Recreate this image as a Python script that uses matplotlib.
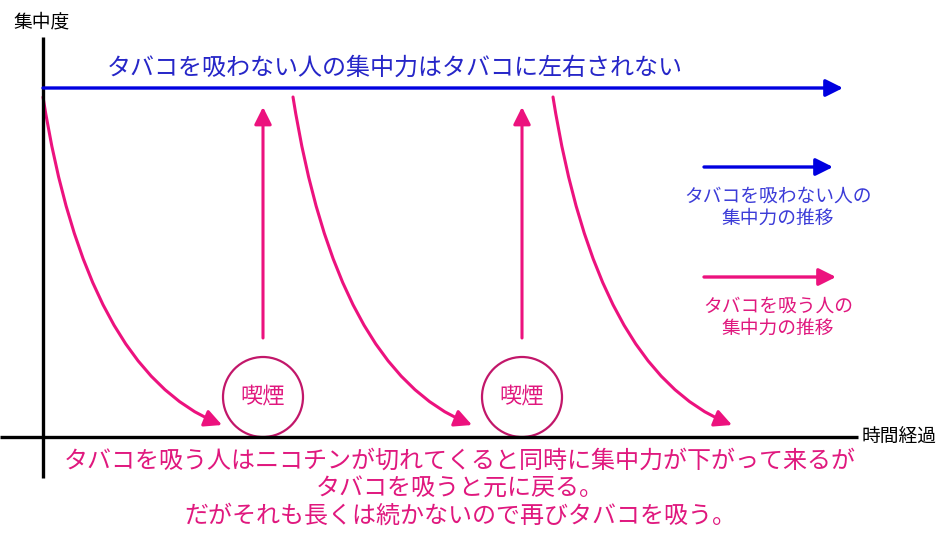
import numpy as np
import matplotlib.pyplot as plt
from matplotlib.patches import FancyArrowPatch, Circle
from matplotlib.path import Path

plt.rcParams['font.family'] = ['Noto Sans CJK JP', 'DejaVu Sans']

# 図の座標はピクセル (左上が原点)
W, H = 949, 542

# 軸
x0, y0 = 43, 437          # 原点
y_top = 37
x_right = 858

# タバコを吸わない人: 一定の集中度
blue_level = 88
blue_end = 843

# タバコを吸う人: 集中力が下がる曲線 (始点x, 終点x)
decay_start_x = [43, 293, 553]
decay_end_x = [222, 472, 732]
decay_start_y = 97
decay_end_y = 425

# 喫煙で戻る (x位置)
smoke_x = [263, 522]
smoke_from = 338
smoke_to = 107
circle_y = 397
circle_r = 40

blue = '#0000E0'
blue_txt = '#2626C8'
pink = '#EC127E'
pink_txt = '#E0187E'
circle_col = '#C2176A'

title = 'タバコを吸わない人の集中力はタバコに左右されない'
legend_blue = ['タバコを吸わない人の', '集中力の推移']
legend_pink = ['タバコを吸う人の', '集中力の推移']
bottom_lines = ['タバコを吸う人はニコチンが切れてくると同時に集中力が下がって来るが',
                'タバコを吸うと元に戻る。',
                'だがそれも長くは続かないので再びタバコを吸う。']

fig = plt.figure(figsize=(W / 100, H / 100), dpi=100)
ax = fig.add_axes([0, 0, 1, 1])
ax.set_xlim(0, W)
ax.set_ylim(H, 0)
ax.axis('off')

# 軸線
ax.plot([x0, x0], [y_top, 478], color='black', lw=2.4, solid_capstyle='butt')
ax.plot([0, x_right], [y0, y0], color='black', lw=2.4, solid_capstyle='butt')
ax.text(14, 22, '集中度', fontsize=13.5, va='center', ha='left')
ax.text(862, y0, '時間経過', fontsize=13.5, va='center', ha='left')

head = '-|>,head_length=0.8,head_width=0.4'


def arrow(p1, p2, color, lw=2.2):
    ax.annotate('', xy=p2, xytext=p1,
                arrowprops=dict(arrowstyle=head, color=color, lw=lw,
                                shrinkA=0, shrinkB=0, mutation_scale=13))


# 吸わない人
arrow((x0, blue_level), (blue_end, blue_level), blue, 2.4)
ax.text(395, 68, title, fontsize=17.3, color=blue_txt, ha='center', va='center')

# 吸う人の曲線
for xs, xe in zip(decay_start_x, decay_end_x):
    ctrl = (xs + 0.24 * (xe - xs), 370)
    verts = [(xs, decay_start_y), ctrl, (xe, decay_end_y)]
    path = Path(verts, [Path.MOVETO, Path.CURVE3, Path.CURVE3])
    p = FancyArrowPatch(path=path, arrowstyle=head, color=pink, lw=2.2,
                        mutation_scale=13)
    ax.add_patch(p)

# 喫煙
for sx in smoke_x:
    arrow((sx, smoke_from), (sx, smoke_to), pink, 2.2)
    ax.add_patch(Circle((sx, circle_y), circle_r, facecolor='white',
                        edgecolor=circle_col, lw=1.6))
    ax.text(sx, circle_y, '喫煙', fontsize=16, color=pink_txt, ha='center', va='center')

# 凡例
arrow((704, 167), (833, 167), blue, 2.4)
for i, s in enumerate(legend_blue):
    ax.text(778, 196 + 22 * i, s, fontsize=13.5, color='#3C3CD8', ha='center', va='center')
arrow((704, 277), (836, 277), pink, 2.4)
for i, s in enumerate(legend_pink):
    ax.text(778, 306 + 22 * i, s, fontsize=13.5, color=pink_txt, ha='center', va='center')

# 説明文
for i, s in enumerate(bottom_lines):
    ax.text(460, 461 + 27.5 * i, s, fontsize=17.3, color=pink_txt, ha='center', va='center')

fig.savefig('out.png', dpi=100)
